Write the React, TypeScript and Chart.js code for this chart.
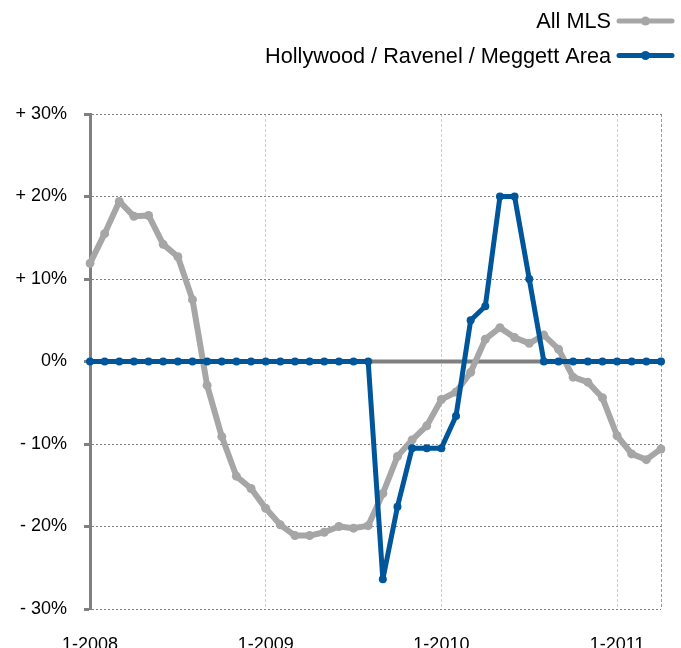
import React, { useEffect, useRef } from "react";
import { Chart, registerables } from "chart.js";

Chart.register(...registerables);

const months: string[] = [
  "1-2008", "2-2008", "3-2008", "4-2008", "5-2008", "6-2008", "7-2008", "8-2008", "9-2008", "10-2008", "11-2008", "12-2008",
  "1-2009", "2-2009", "3-2009", "4-2009", "5-2009", "6-2009", "7-2009", "8-2009", "9-2009", "10-2009", "11-2009", "12-2009",
  "1-2010", "2-2010", "3-2010", "4-2010", "5-2010", "6-2010", "7-2010", "8-2010", "9-2010", "10-2010", "11-2010", "12-2010",
  "1-2011", "2-2011", "3-2011", "4-2011",
];

const allMLS: number[] = [
  11.9, 15.5, 19.4, 17.6, 17.7, 14.2, 12.7, 7.5, -2.9, -9.1, -13.9, -15.4,
  -17.8, -19.8, -21.1, -21.1, -20.7, -20.0, -20.2, -19.9, -16.0, -11.5, -9.5, -7.8,
  -4.6, -3.7, -1.3, 2.7, 4.1, 2.9, 2.2, 3.2, 1.5, -1.9, -2.5, -4.4,
  -9.0, -11.2, -11.9, -10.6,
];

const hollywood: number[] = [
  0, 0, 0, 0, 0, 0, 0, 0, 0, 0, 0, 0,
  0, 0, 0, 0, 0, 0, 0, 0, -26.4, -17.6, -10.5, -10.5,
  -10.5, -6.6, 5.0, 6.7, 20.0, 20.0, 10.0, 0, 0, 0, 0, 0,
  0, 0, 0, 0,
];

const seriesNames: string[] = ["All MLS", "Hollywood / Ravenel / Meggett Area"];
const grayColor = "#a6a6a6";
const blueColor = "#00569a";

const fmtY = (v: number): string => (v > 0 ? "+ " + v + "%" : v < 0 ? "- " + -v + "%" : "0%");

const zeroLinePlugin = {
  id: "zeroLine",
  beforeDatasetsDraw(chart: any) {
    const { ctx, chartArea, scales } = chart;
    const y = scales.y.getPixelForValue(0);
    ctx.save();
    ctx.strokeStyle = "#808080";
    ctx.lineWidth = 4;
    ctx.beginPath();
    ctx.moveTo(chartArea.left, y);
    ctx.lineTo(chartArea.right, y);
    ctx.stroke();
    ctx.restore();
  },
};

const legendPlugin = {
  id: "customLegend",
  afterDraw(chart: any) {
    const { ctx } = chart;
    const items = [
      { label: seriesNames[0], color: grayColor, y: 21 },
      { label: seriesNames[1], color: blueColor, y: 55.5 },
    ];
    ctx.save();
    ctx.font = '21.7px "Liberation Sans", Arial, sans-serif';
    ctx.textAlign = "right";
    ctx.textBaseline = "middle";
    for (const it of items) {
      ctx.fillStyle = "#000";
      ctx.fillText(it.label, 611, it.y + 1.5);
      ctx.strokeStyle = it.color;
      ctx.lineWidth = 5;
      ctx.lineCap = "round";
      ctx.beginPath();
      ctx.moveTo(619, it.y);
      ctx.lineTo(672, it.y);
      ctx.stroke();
      ctx.fillStyle = it.color;
      ctx.beginPath();
      ctx.arc(645.5, it.y, 4.5, 0, Math.PI * 2);
      ctx.fill();
    }
    ctx.restore();
  },
};

export default function App() {
  const ref = useRef<HTMLCanvasElement>(null);
  useEffect(() => {
    if (!ref.current) return;
    const chart = new Chart(ref.current, {
      type: "line",
      data: {
        labels: months,
        datasets: [
          {
            label: seriesNames[1],
            data: hollywood,
            borderColor: blueColor,
            backgroundColor: blueColor,
            borderWidth: 5,
            pointRadius: 4,
            pointBorderWidth: 0,
            pointHoverRadius: 4,
            tension: 0,
            borderJoinStyle: "round",
            borderCapStyle: "round",
          },
          {
            label: seriesNames[0],
            data: allMLS,
            borderColor: grayColor,
            backgroundColor: grayColor,
            borderWidth: 6,
            pointRadius: 4.5,
            pointBorderWidth: 0,
            pointHoverRadius: 4.5,
            tension: 0,
            borderJoinStyle: "round",
            borderCapStyle: "round",
          },
        ],
      },
      options: {
        animation: false,
        responsive: false,
        layout: { padding: { left: 0, right: 20, top: 114, bottom: 0 } },
        plugins: { legend: { display: false }, tooltip: { enabled: false } },
        scales: {
          x: {
            type: "category",
            afterFit: (s: any) => {
              s.height = 39;
            },
            border: { display: false, dash: [3, 2] },
            grid: {
              drawTicks: true,
              tickLength: 25,
              tickColor: "rgba(0,0,0,0)",
              lineWidth: 1,
              color: (c: any) =>
                c.index === months.length - 1 ? "#9a9a9a" : c.index % 12 === 0 ? "#cfcfcf" : "rgba(0,0,0,0)",
            },
            ticks: {
              autoSkip: false,
              maxRotation: 0,
              padding: 0,
              color: "#000",
              font: { family: '"Liberation Sans", Arial, sans-serif', size: 18 },
              callback: (_v: any, i: number) => (months[i].startsWith("1-") ? months[i] : ""),
            },
          },
          y: {
            min: -30,
            max: 30,
            afterFit: (s: any) => {
              s.width = 90;
            },
            border: { display: true, color: "#808080", width: 3, dash: [2, 2] },
            grid: {
              color: (c: any) => (c.tick && c.tick.value === 0 ? "rgba(0,0,0,0)" : "#808080"),
              lineWidth: 1,
              tickColor: "#808080",
              tickWidth: 3,
              tickLength: 6,
            },
            ticks: {
              stepSize: 10,
              padding: 17,
              color: "#000",
              font: { family: '"Liberation Sans", Arial, sans-serif', size: 18 },
              callback: (v: any) => fmtY(Number(v)),
            },
          },
        },
      },
      plugins: [zeroLinePlugin, legendPlugin],
    });
    return () => chart.destroy();
  }, []);
  return (
    <div style={{ position: "absolute", left: 0, top: 0, width: 681, height: 648, background: "#fff" }}>
      <canvas ref={ref} width={681} height={648} style={{ width: 681, height: 648, display: "block" }} />
    </div>
  );
}
